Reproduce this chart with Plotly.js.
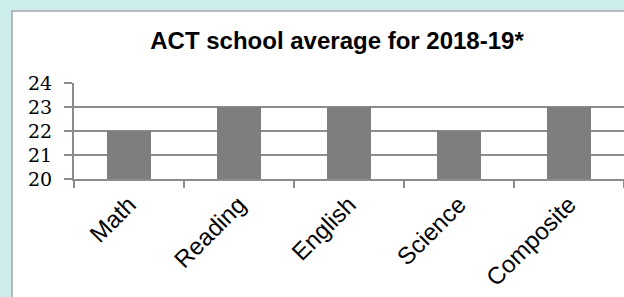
<!DOCTYPE html>
<html>
<head>
<meta charset="utf-8">
<script src="https://cdn.plot.ly/plotly-3.0.1.min.js"></script>
<style>
html,body{margin:0;padding:0;background:#cdecec;}
#chart{width:624px;height:297px;}
</style>
</head>
<body>
<div id="chart"></div>
<script>
const categories = ["Math", "Reading", "English", "Science", "Composite"];
const averages = [22, 23, 23, 22, 23];
const yTicks = [20, 21, 22, 23, 24];
const chartTitle = "ACT school average for 2018-19*";

const W = 624, H = 297;
const L = 74, R = 0, T = 83, B = 118;
const pw = W - L - R, ph = H - T - B;
const px = x => (x - L) / pw;
const py = y => (H - B - y) / ph;

const yMin = yTicks[0], yMax = yTicks[yTicks.length - 1];

const trace = {
  type: "bar",
  x: categories,
  y: averages.map(v => v - yMin),
  base: yMin,
  width: 0.4,
  marker: {color: "#7e7e7e", line: {width: 0}},
  hoverinfo: "skip"
};

const layout = {
  width: W, height: H,
  margin: {l: L, r: R, t: T, b: B, pad: 0},
  paper_bgcolor: "#cdecec",
  plot_bgcolor: "rgba(0,0,0,0)",
  showlegend: false,
  title: {
    text: "<b>" + chartTitle + "</b>",
    font: {family: "Liberation Sans, Arial, sans-serif", size: 24, color: "#000"},
    x: 337 / W, xref: "container", xanchor: "center",
    y: 1 - 41 / H, yref: "container", yanchor: "middle"
  },
  xaxis: {
    type: "category",
    range: [-0.5, 4.5],
    tickangle: -45,
    tickson: "boundaries",
    ticks: "outside", ticklen: 7, tickwidth: 2, tickcolor: "#8c8c8c",
    showline: true, linecolor: "#8c8c8c", linewidth: 2,
    showgrid: false, zeroline: false,
    tickfont: {family: "Liberation Sans, Arial, sans-serif", size: 24, color: "#000"}
  },
  yaxis: {
    range: [yMin, yMax],
    tickvals: yTicks,
    ticktext: yTicks.map(String),
    ticks: "outside", ticklen: 8, tickwidth: 2, tickcolor: "#8c8c8c",
    ticklabelstandoff: 8,
    showline: true, linecolor: "#8c8c8c", linewidth: 2,
    showgrid: true, gridcolor: "#8c8c8c", gridwidth: 2,
    zeroline: false,
    tickfont: {family: "DejaVu Serif, serif", size: 19, color: "#000"}
  },
  shapes: [{
    type: "rect", layer: "below",
    xref: "paper", yref: "paper",
    x0: px(12), x1: px(640), y0: py(320), y1: py(11),
    fillcolor: "#ffffff",
    line: {color: "#a6a6a6", width: 1.5}
  }]
};

Plotly.newPlot("chart", [trace], layout, {staticPlot: true, displayModeBar: false});
</script>
</body>
</html>
